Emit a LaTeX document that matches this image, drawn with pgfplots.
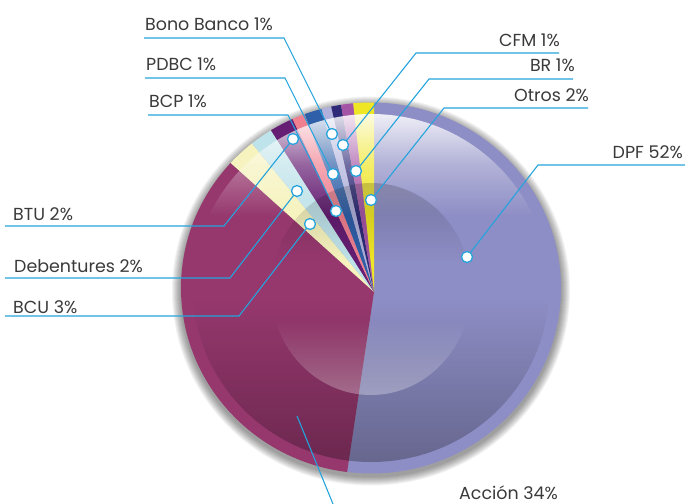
\documentclass[border=0pt]{standalone}
\usepackage{pgfplots}
\pgfplotsset{compat=1.18}
\usepackage{fontspec}
\setmainfont{Poppins}
\usetikzlibrary{fadings}
\definecolor{cDPF}{HTML}{8E8EC6}
\definecolor{cACC}{HTML}{96386E}
\definecolor{cBCU}{HTML}{F6F3BE}
\definecolor{cDEB}{HTML}{BFE3EA}
\definecolor{cBTU}{HTML}{651E73}
\definecolor{cBCP}{HTML}{F08090}
\definecolor{cPDB}{HTML}{2F5FA8}
\definecolor{cBON}{HTML}{B0B0DC}
\definecolor{cCFM}{HTML}{2E2A78}
\definecolor{cBR}{HTML}{A555A5}
\definecolor{cOTR}{HTML}{EFE625}
\definecolor{lead}{HTML}{25A3DC}
\definecolor{txt}{HTML}{3A3A3A}
\tikzfading[name=glosstop, top color=transparent!12, bottom color=transparent!100, middle color=transparent!68]
\tikzfading[name=glossbot, top color=transparent!100, bottom color=transparent!72]
\tikzfading[name=lenstop, top color=transparent!82, bottom color=transparent!100]
\tikzfading[name=lensbot, top color=transparent!100, bottom color=transparent!70]
\tikzset{lb/.style={font=\fontsize{17.5}{18}\selectfont,text=txt,inner sep=0pt}}
\begin{document}
\begin{tikzpicture}
\path[use as bounding box] (0,0) rectangle (685bp,504bp);
\begin{axis}[at={(0,0)},anchor=south west,scale only axis,width=685bp,height=504bp,
  xmin=0,xmax=685,ymin=0,ymax=504,y dir=reverse,hide axis]
% shadow
\pgfplotsinvokeforeach{1,2,...,9}{
  \fill[black,opacity=0.05] (axis cs:371,291) ellipse [x radius={(190+#1)*1bp}, y radius={(185.5+#1)*1bp}];
}
\begin{scope}
\clip (axis cs:371,288) ellipse [x radius=190bp, y radius=185.5bp];
\addplot[fill=cDPF,draw=none] coordinates {(374,292) (374,-8) (800,-8) (800,800) (329.7,588.7)} --cycle;
\addplot[fill=cACC,draw=none] coordinates {(374,292) (329.7,588.7) (100,700) (-50,500) (-50,200) (151.1,91.3)} --cycle;
\addplot[fill=cBCU,draw=none] coordinates {(374,292) (151.1,91.3) (183.6,60.2)} --cycle;
\addplot[fill=cDEB,draw=none] coordinates {(374,292) (183.6,60.2) (212.8,39)} --cycle;
\addplot[fill=cBTU,draw=none] coordinates {(374,292) (212.8,39) (246.3,20.6)} --cycle;
\addplot[fill=cBCP,draw=none] coordinates {(374,292) (246.3,20.6) (265,12.5)} --cycle;
\addplot[fill=cPDB,draw=none] coordinates {(374,292) (265,12.5) (291.3,3.6)} --cycle;
\addplot[fill=cBON,draw=none] coordinates {(374,292) (291.3,3.6) (306.5,-0.3)} --cycle;
\addplot[fill=cCFM,draw=none] coordinates {(374,292) (306.5,-0.3) (321.9,-3.4)} --cycle;
\addplot[fill=cBR,draw=none] coordinates {(374,292) (321.9,-3.4) (341.1,-6.2)} --cycle;
\addplot[fill=cOTR,draw=none] coordinates {(374,292) (341.1,-6.2) (374,-8)} --cycle;
\end{scope}
% gloss
\begin{scope}
\clip (axis cs:371,288) ellipse [x radius=178bp, y radius=174bp];
\fill[white,path fading=glosstop] (axis cs:185,112) rectangle (axis cs:555,216);
\fill[black,path fading=glossbot] (axis cs:185,300) rectangle (axis cs:555,463);
\end{scope}
\begin{scope}
\clip (axis cs:371,289) ellipse [x radius=100bp, y radius=106bp];
\fill[black,path fading=lenstop] (axis cs:265,182) rectangle (axis cs:475,262);
\fill[white,path fading=lensbot] (axis cs:265,320) rectangle (axis cs:475,396);
\end{scope}
% leaders
\pgfplotsset{ld/.style={lead,line width=1.1bp}}
\addplot[ld] coordinates {(685,165) (538,165) (467,257)};
\addplot[ld] coordinates {(588,108) (444,108) (371,200)};
\addplot[ld] coordinates {(573,79) (429,79) (356,171)};
\addplot[ld] coordinates {(559,53) (416,53) (343,145)};
\addplot[ld] coordinates {(144,38) (284,38) (332,134)};
\addplot[ld] coordinates {(145,78) (285,78) (333,174)};
\addplot[ld] coordinates {(148,115) (288,115) (336,211)};
\addplot[ld] coordinates {(5,226) (224,226) (293,139)};
\addplot[ld] coordinates {(5,278) (230,278) (297,191)};
\addplot[ld] coordinates {(5,316) (239,316) (310,224)};
\addplot[ld] coordinates {(297,416) (333,504)};
\addplot[only marks,mark=*,mark size=5.5bp,mark options={fill=white,draw=lead,line width=1.3bp}] coordinates {
(467,257) (371,200) (356,171) (343,145) (332,134) (333,174) (336,211) (293,139) (297,191) (310,224)};
% labels
\node[lb,anchor=base east] at (axis cs:683,158) {DPF 52\%};
\node[lb,anchor=base east] at (axis cs:589,101) {Otros 2\%};
\node[lb,anchor=base east] at (axis cs:575,72) {BR 1\%};
\node[lb,anchor=base east] at (axis cs:560,46.5) {CFM 1\%};
\node[lb,anchor=base west] at (axis cs:145,31) {Bono Banco 1\%};
\node[lb,anchor=base west] at (axis cs:146,71) {PDBC 1\%};
\node[lb,anchor=base west] at (axis cs:149,107) {BCP 1\%};
\node[lb,anchor=base west] at (axis cs:13,220) {BTU 2\%};
\node[lb,anchor=base west] at (axis cs:14,272) {Debentures 2\%};
\node[lb,anchor=base west] at (axis cs:13,313) {BCU 3\%};
\node[lb,anchor=base west] at (axis cs:459,499) {Acci\'on 34\%};
\end{axis}
\end{tikzpicture}
\end{document}
